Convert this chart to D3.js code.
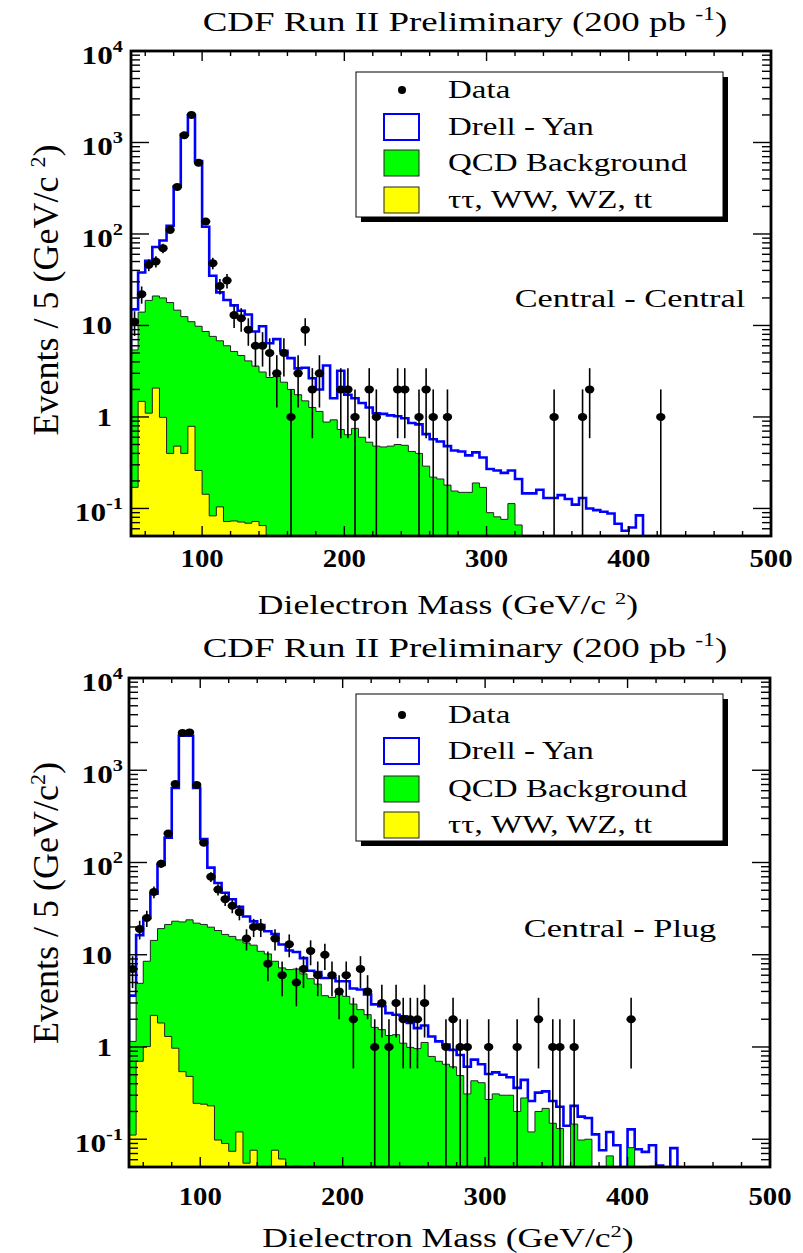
<!DOCTYPE html>
<html><head><meta charset="utf-8">
<script src="https://cdn.jsdelivr.net/npm/d3@7"></script>
<style>body{margin:0;background:#fff}svg{display:block}</style>
</head><body>
<svg id="c" width="803" height="1253"></svg>
<script>
// ---------- data (bins of 5 GeV/c^2 starting at 50) ----------
const binStart = 50, binWidth = 5;
const xTickValues = [100, 200, 300, 400, 500];
const yDecades = [-1, 0, 1, 2, 3, 4];
const legendLabels = ["Data", "Drell - Yan", "QCD Background", "\u03c4\u03c4, WW, WZ, tt"];

// Central - Central
const ccData = [11,22,46,50,70,111,327,1200,2000,601,137,48,27,31,13,12,9,6,6,5,3,5,1,3,9,2,3,0,0,2,2,1,0,2,1,0,0,2,2,0,1,2,1,0,1,0,0,0,0,0,0,0,0,0,0,0,0,0,0,1,0,0,0,1,2,0,0,0,0,0,0,0,0,0,1];
const ccDrellYan = [15,38,51,72,85,123,330,1220,1980,626,120,35,23,19,16.6,14.5,13.2,8.6,9.8,6.4,7.1,5.3,4.4,3.4,3.45,2.65,2.0,3.65,1.6,3.2,1.75,1.6,1.42,1.27,1.1,1.08,1.04,1.02,0.97,0.86,0.83,0.65,0.57,0.54,0.48,0.43,0.42,0.38,0.41,0.36,0.27,0.26,0.245,0.26,0.21,0.146,0.146,0.16,0.13,0.13,0.14,0.127,0.11,0.13,0.1,0.096,0.092,0.088,0.068,0.057,0.062,0.084];
const ccQCD = [5.4,14,18.8,21,20,17.8,14.7,12.5,11,9.8,8.6,7.6,6.8,6.0,5.2,4.7,4.1,3.6,3.1,2.7,2.8,2.4,2.0,1.75,1.5,1.27,1.15,0.88,0.93,0.73,0.64,0.75,0.6,0.53,0.48,0.47,0.48,0.5,0.49,0.42,0.4,0.29,0.22,0.21,0.18,0.155,0.15,0.15,0.19,0.17,0.09,0.081,0.076,0.113,0.066];
const ccOther = [0.17,1.48,1.1,2.07,0.99,0.4,0.48,0.4,0.79,0.26,0.143,0.083,0.104,0.072,0.073,0.071,0.069,0.072,0.065];

// Central - Plug
const cpData = [7,19,25,48,97,206,708,2540,2570,693,164,70,51,40,34,29,15,20,20,8,15,6,13,5,7,11,6,10,6,4,6,2,7,4,1,3,1,3,2,2,2,3,0,0,1,2,1,1,0,0,1,0,0,0,1,0,0,2,0,1,1,0,1,0,0,0,0,0,0,0,2];
const cpDrellYan = [3.6,16.3,25,46,94,186,641,2370,2370,641,179,88,60,47,40,33,26,23,21,18,16.8,12.9,11.1,10.7,9.2,6.7,6.5,5.6,5.6,5.15,5.15,4.3,4.2,3.7,2.9,2.76,2.33,2.24,2.15,1.82,1.6,1.71,1.3,1.15,1.06,0.93,0.82,0.61,0.73,0.65,0.51,0.53,0.5,0.47,0.36,0.44,0.26,0.32,0.33,0.26,0.225,0.14,0.23,0.176,0.17,0.113,0.076,0.12,0.086,0.049,0.128,0.078,0.073,0.086,0.052,0.049,0.08];
const cpQCD = [1.15,4.9,8.5,14.3,19.2,21.3,23.1,22.7,23.9,22,21.3,19.9,18.3,16.6,15.8,14.5,13.4,12.7,10.9,10.2,8.5,7.2,6.9,7.0,6.2,5.5,4.8,3.6,3.45,3.75,3.54,2.92,2.54,2.24,1.63,1.54,1.33,1.36,1.1,0.99,0.96,1.12,0.79,0.7,0.65,0.61,0.49,0.31,0.43,0.41,0.27,0.31,0.3,0.3,0.2,0.28,0.12,0.2,0.216,0.149,0.131,0,0.146,0.098,0.1,0,0,0.066,0,0,0.081,0,0,0.051,0,0,0.051];
const cpOther = [0.111,0.7,1.01,2.2,1.82,1.3,0.97,0.54,0.48,0.245,0.24,0.23,0.098,0.09,0.074,0.12,0.055,0.076,0,0,0.076,0.061,0,0.051];

// ---------- drawing ----------
const svg = d3.select("#c");
const FONT = "'Liberation Serif','Times New Roman',Times,serif";
const SX = 1.32; // horizontal stretch of the original figure text

function txt(g, x, y, parts, o) {
  o = o || {};
  const sx = o.sx === undefined ? SX : o.sx;
  const t = g.append("text")
    .attr("transform", `translate(${x},${y}) scale(${sx},1)` + (o.rot ? ` rotate(${o.rot})` : ""))
    .attr("font-family", FONT)
    .attr("font-size", o.size || 24)
    .attr("font-weight", o.bold ? "bold" : "normal")
    .attr("text-anchor", o.anchor || "start")
    .attr("fill", "#000");
  parts.forEach(p => {
    if (typeof p === "string") t.append("tspan").text(p);
    else t.append("tspan").attr("dy", p.dy).attr("font-size", p.size).text(p.t);
  });
  return t;
}

function drawPanel(c) {
  const g = svg.append("g");
  const x = d3.scaleLinear().domain([50, 500]).range([c.left, c.right]);
  const ymin = 0.05;
  const y = d3.scaleLog().domain([ymin, 1e4]).range([c.bottom, c.top]);
  const yb = c.bottom;
  const clipId = "clip" + c.id;
  svg.append("clipPath").attr("id", clipId).append("rect")
    .attr("x", c.left).attr("y", c.top).attr("width", c.right - c.left).attr("height", c.bottom - c.top);
  const plot = g.append("g").attr("clip-path", `url(#${clipId})`);

  const yv = v => v >= ymin ? y(v) : yb + 2;
  function steps(vals) {
    const pts = [[x(binStart), yb + 2]];
    vals.forEach((v, i) => {
      const x0 = x(binStart + i * binWidth), x1 = x(binStart + (i + 1) * binWidth);
      pts.push([x0, yv(v)], [x1, yv(v)]);
    });
    pts.push([x(binStart + vals.length * binWidth), yb + 2]);
    return pts;
  }
  const line = d3.line();

  plot.append("path").attr("d", line(steps(c.dy)) + "Z").attr("fill", "#fff")
    .attr("stroke", "#0000ff").attr("stroke-width", 2.6).attr("stroke-linejoin", "miter");
  plot.append("path").attr("d", line(steps(c.qcd)) + "Z").attr("fill", "#00ff00")
    .attr("stroke", "#222").attr("stroke-width", 1);
  plot.append("path").attr("d", line(steps(c.other)) + "Z").attr("fill", "#ffff00")
    .attr("stroke", "#222").attr("stroke-width", 1);

  // ticks (inside the frame)
  const minors = [];
  for (let e = -2; e <= 3; e++) for (let m = 2; m <= 9; m++) {
    const v = m * Math.pow(10, e);
    if (v > ymin && v < 1e4) minors.push(v);
  }
  const majors = yDecades.map(e => Math.pow(10, e));
  const tk = g.append("g").attr("stroke", "#000").attr("stroke-width", 1.4);
  majors.forEach(v => {
    tk.append("line").attr("x1", c.left).attr("x2", c.left + 18).attr("y1", y(v)).attr("y2", y(v));
    tk.append("line").attr("x1", c.right).attr("x2", c.right - 18).attr("y1", y(v)).attr("y2", y(v));
  });
  minors.forEach(v => {
    tk.append("line").attr("x1", c.left).attr("x2", c.left + 9).attr("y1", y(v)).attr("y2", y(v));
    tk.append("line").attr("x1", c.right).attr("x2", c.right - 9).attr("y1", y(v)).attr("y2", y(v));
  });
  d3.range(60, 500, 20).forEach(v => {
    const L = (v % 100 === 0) ? 10 : 5;
    tk.append("line").attr("x1", x(v)).attr("x2", x(v)).attr("y1", c.bottom).attr("y2", c.bottom - L);
    tk.append("line").attr("x1", x(v)).attr("x2", x(v)).attr("y1", c.top).attr("y2", c.top + L);
  });

  // frame
  g.append("rect").attr("x", c.left).attr("y", c.top).attr("width", c.right - c.left)
    .attr("height", c.bottom - c.top).attr("fill", "none").attr("stroke", "#000").attr("stroke-width", 2.8);

  // data points
  const dg = g.append("g").attr("clip-path", `url(#${clipId})`);
  c.data.forEach((n, i) => {
    if (n <= 0) return;
    const cx = x(binStart + (i + 0.5) * binWidth);
    const e = Math.sqrt(n);
    dg.append("line").attr("x1", cx).attr("x2", cx)
      .attr("y1", yv(n + e)).attr("y2", n - e > ymin ? y(n - e) : yb + 2)
      .attr("stroke", "#000").attr("stroke-width", 1.6);
    dg.append("ellipse").attr("cx", cx).attr("cy", y(n)).attr("rx", 4.7).attr("ry", 4).attr("fill", "#000");
  });

  // y labels
  yDecades.forEach(e => {
    const yy = y(Math.pow(10, e));
    if (e === 0) txt(g, 112, yy + 9, ["1"], { size: 26, bold: true, anchor: "end", sx: 1.2 });
    else if (e === 1) txt(g, 112, yy + 9, ["10"], { size: 26, bold: true, anchor: "end", sx: 1.2 });
    else txt(g, 123, yy + 13, ["10", { t: String(e), dy: -12, size: 17 }], { size: 26, bold: true, anchor: "end", sx: 1.2 });
  });
  // x labels
  xTickValues.forEach(v => txt(g, x(v), c.xLabelY, [String(v)], { size: 25, bold: true, anchor: "middle", sx: 1.15 }));

  // axis titles
  txt(g, 448, c.xTitleY, c.xTitle, { size: 27, anchor: "middle" });
  txt(g, c.yTitleX, c.yTitleY, c.yTitle, { size: 36, anchor: "middle", rot: -90, sx: 1.0 });
  // title
  txt(g, 465, c.titleY, ["CDF Run II Preliminary (200 pb ", { t: "-1", dy: -11, size: 18 }, { t: ")", dy: 11, size: 28 }], { size: 28, anchor: "middle" });
  // region label
  txt(g, c.labelX, c.labelY, [c.label], { size: 26, anchor: "middle" });

  // legend
  const L = c.legend;
  g.append("rect").attr("x", L.x + 5).attr("y", L.y + 5).attr("width", L.w).attr("height", L.h).attr("fill", "#000");
  g.append("rect").attr("x", L.x).attr("y", L.y).attr("width", L.w).attr("height", L.h).attr("fill", "#fff").attr("stroke", "#000").attr("stroke-width", 1);
  const rowsY = L.rows;
  g.append("circle").attr("cx", L.x + 46).attr("cy", rowsY[0]).attr("r", 4).attr("fill", "#000");
  const sw = [["#fff", "#0000ff"], ["#00ff00", "#222"], ["#ffff00", "#222"]];
  sw.forEach((s, k) => {
    g.append("rect").attr("x", L.x + 28).attr("y", rowsY[k + 1] - 13).attr("width", 35).attr("height", 26)
      .attr("fill", s[0]).attr("stroke", s[1]).attr("stroke-width", k === 0 ? 2 : 1);
  });
  legendLabels.forEach((t, k) => txt(g, L.x + 92, rowsY[k] + 8, [t], { size: 25 }));
}

drawPanel({
  id: "cc", left: 131, right: 771, top: 51, bottom: 536,
  data: ccData, dy: ccDrellYan, qcd: ccQCD, other: ccOther,
  xLabelY: 567, xTitleY: 614, titleY: 31,
  xTitle: ["Dielectron Mass (GeV/c ", { t: "2", dy: -10, size: 17 }, { t: ")", dy: 10, size: 27 }],
  yTitle: ["Events / 5 (GeV/c ", { t: "2", dy: -13, size: 22 }, { t: ")", dy: 13, size: 36 }],
  yTitleX: 58, yTitleY: 290,
  label: "Central - Central", labelX: 630, labelY: 307,
  legend: { x: 356, y: 72, w: 367, h: 145, rows: [90, 127, 163, 200] }
});
drawPanel({
  id: "cp", left: 129, right: 770, top: 678, bottom: 1167,
  data: cpData, dy: cpDrellYan, qcd: cpQCD, other: cpOther,
  xLabelY: 1205, xTitleY: 1247, titleY: 657,
  xTitle: ["Dielectron Mass (GeV/c", { t: "2", dy: -10, size: 17 }, { t: ")", dy: 10, size: 27 }],
  yTitle: ["Events / 5 (GeV/c", { t: "2", dy: -13, size: 22 }, { t: ")", dy: 13, size: 36 }],
  yTitleX: 58, yTitleY: 903,
  label: "Central - Plug", labelX: 620, labelY: 937,
  legend: { x: 356, y: 694, w: 367, h: 147, rows: [715, 751, 789, 825] }
});
</script>
</body></html>
